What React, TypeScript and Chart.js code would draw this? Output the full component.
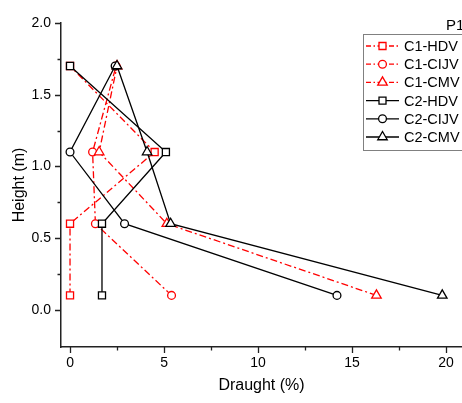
import React, { useEffect, useRef } from 'react';
import { Chart, registerables } from 'chart.js';

Chart.register(...registerables);

const heights = [0.1, 0.6, 1.1, 1.7];
const seriesLabels = ['C1-HDV', 'C1-CIJV', 'C1-CMV', 'C2-HDV', 'C2-CIJV', 'C2-CMV'];
const c1HDV = [0, 0, 4.5, 0];
const c1CIJV = [5.4, 1.35, 1.2, 2.45];
const c1CMV = [16.3, 5.15, 1.55, 2.5];
const c2HDV = [1.7, 1.7, 5.1, 0];
const c2CIJV = [14.2, 2.9, 0, 2.4];
const c2CMV = [19.8, 5.35, 4.1, 2.5];
const seriesValues = [c1HDV, c1CIJV, c1CMV, c2HDV, c2CIJV, c2CMV];

const xTickValues = [0, 5, 10, 15, 20];
const xTickLabels = ['0', '5', '10', '15', '20'];
const xMinorTicks = [2.5, 7.5, 12.5, 17.5];
const yTickValues = [0, 0.5, 1, 1.5, 2];
const yTickLabels = ['0.0', '0.5', '1.0', '1.5', '2.0'];
const yMinorTicks = [0.25, 0.75, 1.25, 1.75];
const legendTitle = 'P1';
const xTitle = 'Draught (%)';
const yTitle = 'Height (m)';

const FONT = '"Liberation Sans", Arial, Helvetica, sans-serif';
const RED = '#ff0000';
const BLACK = '#000000';
const DASHDOT = [7, 3, 2, 3];

const seriesStyles = [
  { color: RED, dash: DASHDOT, shape: 'rect' },
  { color: RED, dash: DASHDOT, shape: 'circle' },
  { color: RED, dash: DASHDOT, shape: 'triangle' },
  { color: BLACK, dash: [], shape: 'rect' },
  { color: BLACK, dash: [], shape: 'circle' },
  { color: BLACK, dash: [], shape: 'triangle' },
];

const radiusFor = (shape: string) => (shape === 'rect' ? 5 : shape === 'circle' ? 3.9 : 5.5);

function drawMarker(ctx: CanvasRenderingContext2D, shape: string, x: number, y: number, color: string) {
  ctx.save();
  ctx.setLineDash([]);
  ctx.strokeStyle = color;
  ctx.fillStyle = '#fff';
  ctx.lineWidth = 1.3;
  ctx.beginPath();
  if (shape === 'rect') {
    const s = 3.5;
    ctx.rect(x - s, y - s, 2 * s, 2 * s);
  } else if (shape === 'circle') {
    ctx.arc(x, y, 3.9, 0, Math.PI * 2);
  } else {
    const r = 5.5;
    ctx.moveTo(x, y - r);
    ctx.lineTo(x + r * Math.sin(Math.PI / 3 * 2), y + r * 0.5);
    ctx.lineTo(x - r * Math.sin(Math.PI / 3 * 2), y + r * 0.5);
    ctx.closePath();
  }
  ctx.fill();
  ctx.stroke();
  ctx.restore();
}

const ticksPlugin = {
  id: 'originTicks',
  afterDraw(chart: any) {
    const { ctx, chartArea, scales } = chart;
    const x = scales.x;
    const y = scales.y;
    ctx.save();
    ctx.strokeStyle = '#222';
    ctx.lineWidth = 1.3;
    ctx.beginPath();
    xTickValues.forEach((v) => {
      const px = Math.round(x.getPixelForValue(v)) + 0.5;
      ctx.moveTo(px, chartArea.bottom);
      ctx.lineTo(px, chartArea.bottom + 6);
    });
    xMinorTicks.forEach((v) => {
      const px = Math.round(x.getPixelForValue(v)) + 0.5;
      ctx.moveTo(px, chartArea.bottom);
      ctx.lineTo(px, chartArea.bottom + 3.5);
    });
    yTickValues.forEach((v) => {
      const py = Math.round(y.getPixelForValue(v)) + 0.5;
      ctx.moveTo(chartArea.left, py);
      ctx.lineTo(chartArea.left - 6, py);
    });
    yMinorTicks.forEach((v) => {
      const py = Math.round(y.getPixelForValue(v)) + 0.5;
      ctx.moveTo(chartArea.left, py);
      ctx.lineTo(chartArea.left - 3.5, py);
    });
    ctx.stroke();
    ctx.restore();
  },
};

const legendPlugin = {
  id: 'originLegend',
  afterDraw(chart: any) {
    const ctx: CanvasRenderingContext2D = chart.ctx;
    ctx.save();
    ctx.font = `15px ${FONT}`;
    ctx.fillStyle = '#000';
    ctx.textAlign = 'left';
    ctx.textBaseline = 'middle';
    ctx.fillText(legendTitle, 446, 26);

    const bx = 363.5, by = 34.5, bw = 120, bh = 116;
    ctx.fillStyle = '#fff';
    ctx.fillRect(bx, by, bw, bh);
    ctx.strokeStyle = '#808080';
    ctx.lineWidth = 1;
    ctx.strokeRect(bx, by, bw, bh);

    chart.data.datasets.forEach((ds: any, i: number) => {
      const st = seriesStyles[i];
      const cy = 46 + i * 18.2;
      ctx.save();
      ctx.strokeStyle = st.color;
      ctx.lineWidth = 1.3;
      ctx.setLineDash(st.dash.length ? [5, 2.5, 1.5, 2.5] : []);
      ctx.beginPath();
      ctx.moveTo(366, cy);
      ctx.lineTo(399, cy);
      ctx.stroke();
      ctx.restore();
      drawMarker(ctx, st.shape, 382.5, cy, st.color);
      ctx.font = `14.5px ${FONT}`;
      ctx.fillStyle = '#000';
      ctx.textAlign = 'left';
      ctx.textBaseline = 'middle';
      ctx.fillText(ds.label, 404, cy + 1);
    });
    ctx.restore();
  },
};

export default function App() {
  const canvasRef = useRef<HTMLCanvasElement | null>(null);

  useEffect(() => {
    if (!canvasRef.current) return;
    const datasets = seriesValues.map((vals, i) => {
      const st = seriesStyles[i];
      return {
        label: seriesLabels[i],
        data: heights.map((h, k) => ({ x: vals[k], y: h })),
        order: seriesValues.length - i,
        showLine: true,
        borderColor: st.color,
        backgroundColor: '#fff',
        borderWidth: 1.3,
        borderDash: st.dash,
        pointStyle: st.shape,
        pointRadius: radiusFor(st.shape),
        pointBorderWidth: 1.3,
        pointBorderColor: st.color,
        pointBackgroundColor: '#fff',
        tension: 0,
      };
    });

    const chart = new Chart(canvasRef.current, {
      type: 'scatter',
      data: { datasets },
      plugins: [ticksPlugin, legendPlugin],
      options: {
        animation: false,
        responsive: false,
        devicePixelRatio: 1,
        layout: { autoPadding: false, padding: { top: 23, left: 0, right: 0, bottom: 0 } },
        plugins: {
          legend: { display: false },
          tooltip: { enabled: false },
          title: { display: false },
        },
        scales: {
          x: {
            type: 'linear',
            min: -0.48,
            max: 20.85,
            afterBuildTicks: (s: any) => {
              s.ticks = xTickValues.map((v) => ({ value: v }));
            },
            afterFit: (s: any) => {
              s.height = 56;
              s.paddingLeft = 0;
              s.paddingRight = 0;
            },
            ticks: {
              callback: (_v: any, i: number) => xTickLabels[i],
              font: { family: FONT, size: 14 },
              color: '#000',
              padding: 8,
              maxRotation: 0,
              autoSkip: false,
            },
            grid: { display: false, drawTicks: false },
            border: { display: true, color: '#222', width: 1.5 },
            title: {
              display: true,
              text: xTitle,
              color: '#000',
              font: { family: FONT, size: 16 },
              padding: { top: 0, bottom: 8 },
            },
          },
          y: {
            type: 'linear',
            min: -0.26,
            max: 2.0,
            afterBuildTicks: (s: any) => {
              s.ticks = yTickValues.map((v) => ({ value: v }));
            },
            afterFit: (s: any) => {
              s.width = 61;
              s.paddingTop = 0;
              s.paddingBottom = 0;
            },
            ticks: {
              callback: (_v: any, i: number) => yTickLabels[i],
              font: { family: FONT, size: 14 },
              color: '#000',
              padding: 10,
              autoSkip: false,
            },
            grid: { display: false, drawTicks: false },
            border: { display: true, color: '#222', width: 1.5 },
            title: {
              display: true,
              text: yTitle,
              color: '#000',
              font: { family: FONT, size: 16 },
              padding: { top: 10, bottom: 0 },
            },
          },
        },
      } as any,
    });
    return () => chart.destroy();
  }, []);

  return (
    <div style={{ position: 'absolute', left: 0, top: 0, width: 462, height: 403, background: '#fff' }}>
      <canvas ref={canvasRef} width={462} height={403} style={{ display: 'block', width: 462, height: 403 }} />
    </div>
  );
}
